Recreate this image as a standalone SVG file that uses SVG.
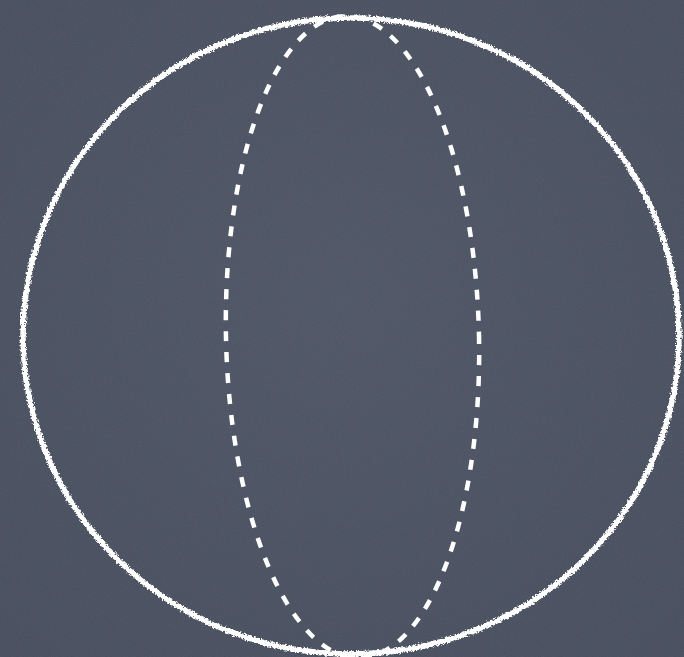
<svg xmlns="http://www.w3.org/2000/svg" width="684" height="657" viewBox="0 0 684 657">
  <defs>
    <radialGradient id="bg" cx="50%" cy="45%" r="75%">
      <stop offset="0" stop-color="#4d5464"/>
      <stop offset="1" stop-color="#454c5b"/>
    </radialGradient>
    <filter id="chalk" x="-5%" y="-5%" width="110%" height="110%">
      <feTurbulence type="fractalNoise" baseFrequency="0.55" numOctaves="2" seed="3" result="n"/>
      <feDisplacementMap in="SourceGraphic" in2="n" scale="5" xChannelSelector="R" yChannelSelector="G"/>
    </filter>
    <filter id="tex">
      <feTurbulence type="fractalNoise" baseFrequency="0.9" numOctaves="2" seed="7" result="n"/>
      <feColorMatrix in="n" type="matrix" values="0 0 0 0 1  0 0 0 0 1  0 0 0 0 1  0 0 0 0.06 0"/>
    </filter>
    <style>
      .outer { fill: none; stroke: #ffffff; stroke-width: 5.5; }
      .dash { fill: none; stroke: #ffffff; stroke-width: 4.5; stroke-dasharray: 10 11; }
    </style>
  </defs>
  <rect width="684" height="657" fill="url(#bg)"/>
  <rect width="684" height="657" filter="url(#tex)"/>
  <g id="sphere">
    <ellipse class="outer" cx="351" cy="336" rx="328" ry="318" filter="url(#chalk)"/>
  </g>
  <g id="meridian">
    <ellipse class="dash" cx="352.5" cy="337" rx="126.5" ry="321" transform="rotate(-1.3 352.5 337)"/>
  </g>
</svg>
